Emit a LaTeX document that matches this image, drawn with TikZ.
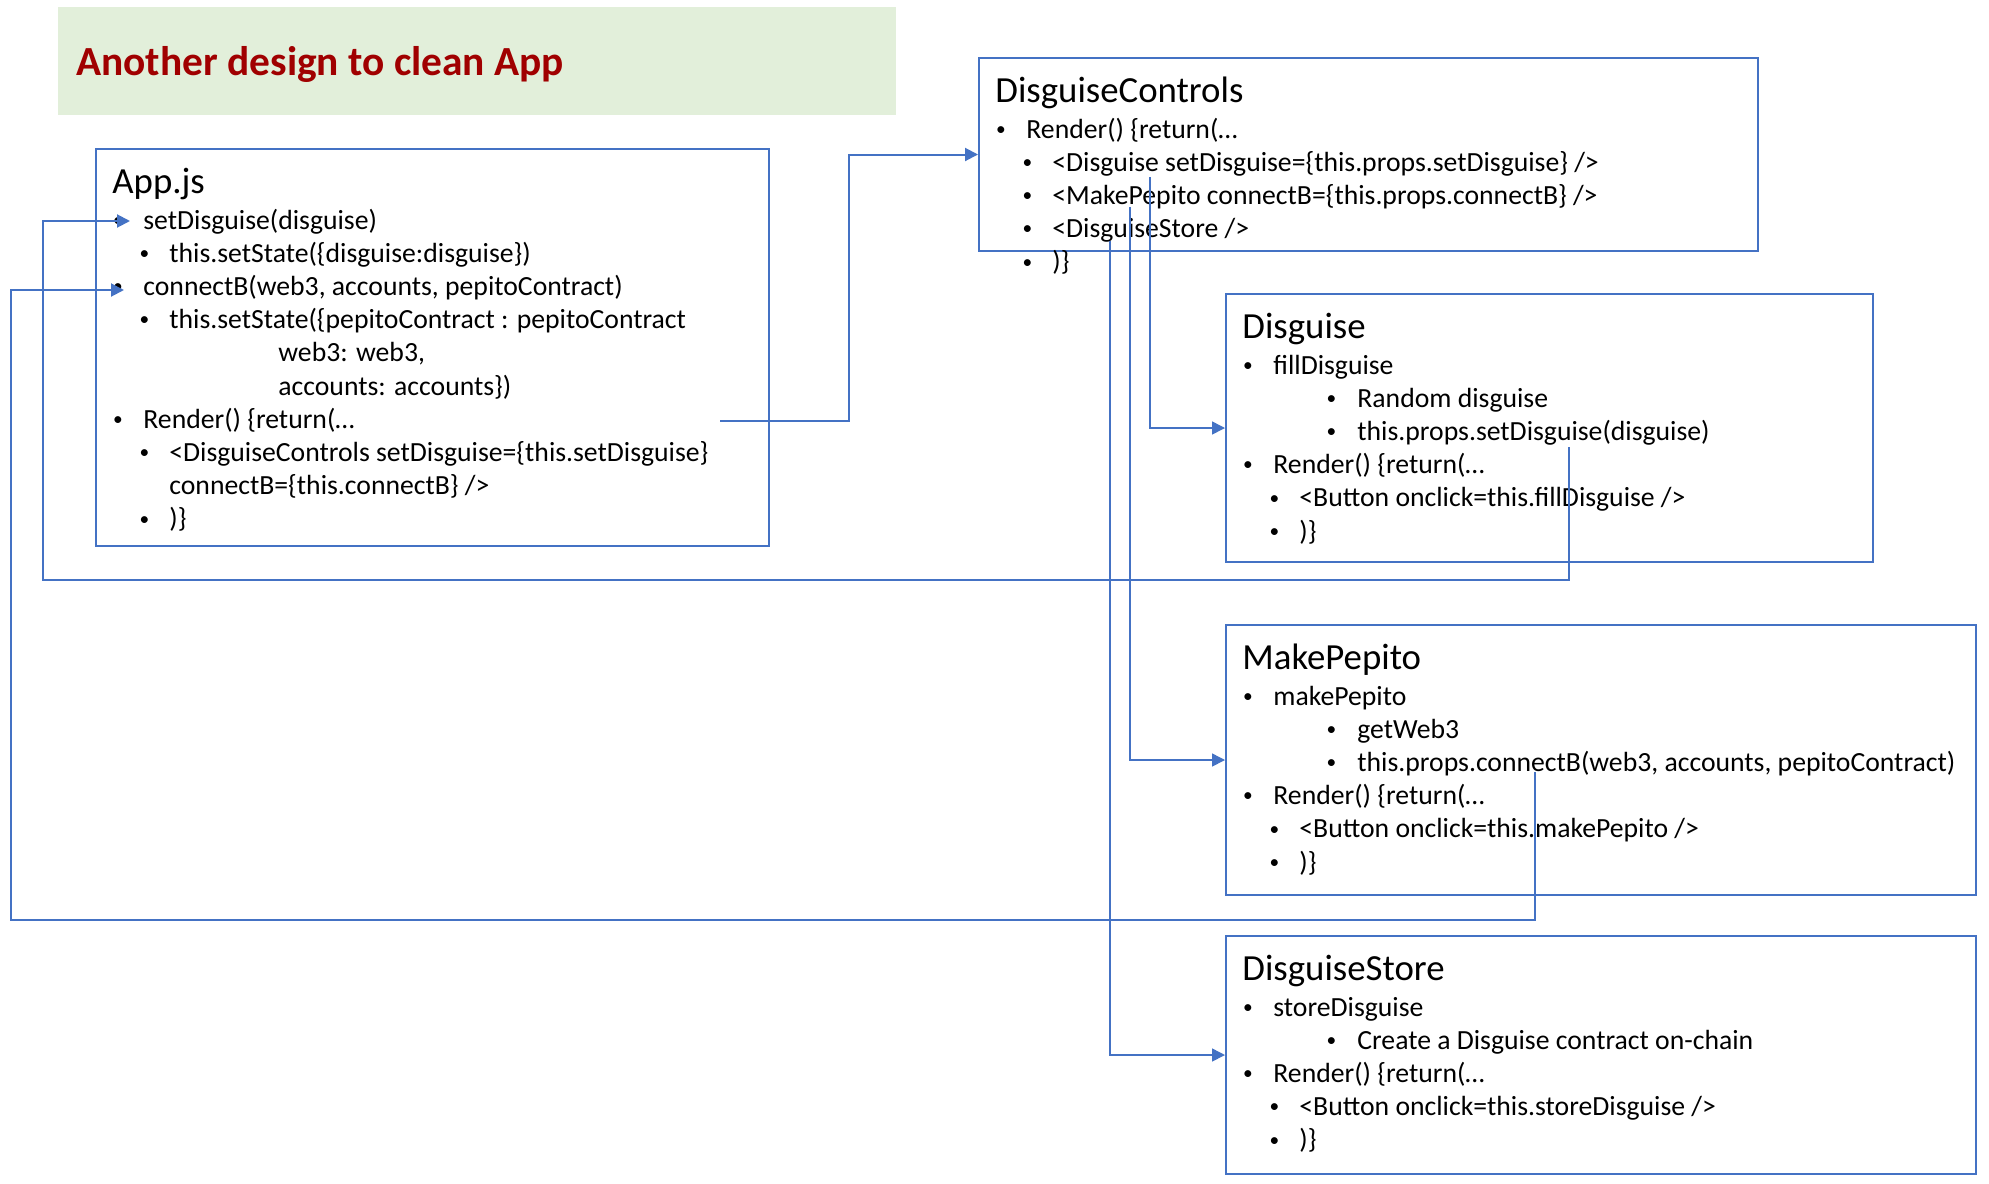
\documentclass[tikz,border=0pt]{standalone}
\usepackage{graphicx}
\usepackage{fontspec}
\setmainfont{Carlito}
\usetikzlibrary{arrows.meta}

\definecolor{boxblue}{RGB}{68,114,196}
\definecolor{bannergreen}{RGB}{226,239,218}
\definecolor{titlered}{RGB}{160,0,0}

\newcommand{\bodyfont}{\fontsize{13.85pt}{16.6pt}\selectfont}
\newcommand{\headfont}{\fontsize{18.4pt}{22pt}\selectfont}
\newcommand{\titlefont}{\fontsize{20.7pt}{25pt}\selectfont\bfseries}
\newcommand{\bul}[1]{\makebox[#1][l]{\makebox[0pt]{\raisebox{0.1em}{\scalebox{0.7}{\textbullet}}}}}

\tikzset{
  box/.style={draw=boxblue, line width=1pt, anchor=north west, inner sep=0pt},
  head/.style={anchor=base west, inner sep=0pt, font=\headfont},
  txt/.style={anchor=base west, inner sep=0pt, font=\bodyfont},
  lvA/.style={txt, execute at begin node={\bul{12.75pt}}},
  lvB/.style={txt, execute at begin node={\bul{12.5pt}}},
  lvC/.style={txt, execute at begin node={\bul{13pt}}},
  wire/.style={draw=boxblue, line width=1pt, -{Triangle[length=6.5pt,width=6.5pt]}},
  thin wire/.style={wire, line width=0.75pt},
}

\begin{document}
\begin{tikzpicture}[x=0.5pt, y=-0.5pt]
  \fill[white] (0,0) rectangle (1989,1183);
  \useasboundingbox (0,0) rectangle (1989,1183);

  % Title banner
  \node[fill=bannergreen, anchor=north west, inner sep=0pt,
        minimum width=419pt, minimum height=54pt] (banner) at (58,7) {};
  \node[anchor=base west, inner sep=0pt, font=\titlefont, text=titlered]
        (title) at (76,75) {Another design to clean App};

  % App.js
  \begin{scope}[shift={(95,148)}]
    \node[box, minimum width=336.5pt, minimum height=198.5pt] (app) at (0,0) {};
    \node[head] (app-h) at (17,45) {App.js};
    \node[lvA] (app-1) at (22.5,81) {setDisguise(disguise)};
    \node[lvB] (app-2) at (49,114.2) {this.setState(\{disguise:disguise\})};
    \node[lvA] (app-3) at (22.5,147.4) {connectB(web3, accounts, pepitoContract)};
    \node[lvB] (app-4) at (49,180.6) {this.setState(\{pepitoContract : pepitoContract};
    \node[txt] (app-5) at (183,213.8) {web3: web3,};
    \node[txt] (app-6) at (183,247) {accounts: accounts\})};
    \node[lvA] (app-7) at (22.5,280.2) {Render() \{return(…};
    \node[lvB] (app-8) at (49,313.4) {<DisguiseControls setDisguise=\{this.setDisguise\}};
    \node[txt] (app-9) at (74,346.6) {connectB=\{this.connectB\} />};
    \node[lvB] (app-10) at (49,379.8) {)\}};
  \end{scope}

  % DisguiseControls
  \begin{scope}[shift={(978,57)}]
    \node[box, minimum width=389.5pt, minimum height=96.5pt] (ctrl) at (0,0) {};
    \node[head] (ctrl-h) at (17,45) {DisguiseControls};
    \node[lvA] (ctrl-1) at (22.5,81) {Render() \{return(…};
    \node[lvB] (ctrl-2) at (49,114.2) {<Disguise setDisguise=\{this.props.setDisguise\} />};
    \node[lvB] (ctrl-3) at (49,147.4) {<MakePepito connectB=\{this.props.connectB\} />};
    \node[lvB] (ctrl-4) at (49,180.6) {<DisguiseStore />};
    \node[lvB] (ctrl-5) at (49,213.8) {)\}};
  \end{scope}

  % Disguise
  \begin{scope}[shift={(1225,293)}]
    \node[box, minimum width=323.5pt, minimum height=134pt] (dis) at (0,0) {};
    \node[head] (dis-h) at (17,45) {Disguise};
    \node[lvA] (dis-1) at (22.5,81) {fillDisguise};
    \node[lvC] (dis-2) at (106,114.2) {Random disguise};
    \node[lvC] (dis-3) at (106,147.4) {this.props.setDisguise(disguise)};
    \node[lvA] (dis-4) at (22.5,180.6) {Render() \{return(…};
    \node[lvB] (dis-5) at (49,213.8) {<Button onclick=this.fillDisguise />};
    \node[lvB] (dis-6) at (49,247) {)\}};
  \end{scope}

  % MakePepito
  \begin{scope}[shift={(1225,624)}]
    \node[box, minimum width=375pt, minimum height=135pt] (mkp) at (0,0) {};
    \node[head] (mkp-h) at (17,45) {MakePepito};
    \node[lvA] (mkp-1) at (22.5,81) {makePepito};
    \node[lvC] (mkp-2) at (106,114.2) {getWeb3};
    \node[lvC] (mkp-3) at (106,147.4) {this.props.connectB(web3, accounts, pepitoContract)};
    \node[lvA] (mkp-4) at (22.5,180.6) {Render() \{return(…};
    \node[lvB] (mkp-5) at (49,213.8) {<Button onclick=this.makePepito />};
    \node[lvB] (mkp-6) at (49,247) {)\}};
  \end{scope}

  % DisguiseStore
  \begin{scope}[shift={(1225,935)}]
    \node[box, minimum width=375pt, minimum height=119pt] (store) at (0,0) {};
    \node[head] (store-h) at (17,45) {DisguiseStore};
    \node[lvA] (store-1) at (22.5,81) {storeDisguise};
    \node[lvC] (store-2) at (106,114.2) {Create a Disguise contract on-chain};
    \node[lvA] (store-3) at (22.5,147.4) {Render() \{return(…};
    \node[lvB] (store-4) at (49,180.6) {<Button onclick=this.storeDisguise />};
    \node[lvB] (store-5) at (49,213.8) {)\}};
  \end{scope}

  % Connector ends
  \coordinate (app-out) at (720,421);
  \coordinate (app-sd) at (130,221);
  \coordinate (app-cb) at (124,290);
  \coordinate (dis-out) at (1569,447);
  \coordinate (mkp-out) at (1535,772);
  \coordinate (ctrl-a) at (1150,177);
  \coordinate (ctrl-b) at (1130,207);
  \coordinate (ctrl-c) at (1110,241);

  % Connectors
  \draw[wire] (app-out) -- ++(129,0) |- (ctrl.west);
  \draw[wire] (dis-out) |- (43,580) |- (app-sd);
  \draw[wire] (mkp-out) |- (11,920) |- (app-cb);
  \draw[thin wire] (ctrl-a) |- (dis.west);
  \draw[thin wire] (ctrl-b) |- (mkp.west);
  \draw[thin wire] (ctrl-c) |- (store.west);
\end{tikzpicture}
\end{document}
